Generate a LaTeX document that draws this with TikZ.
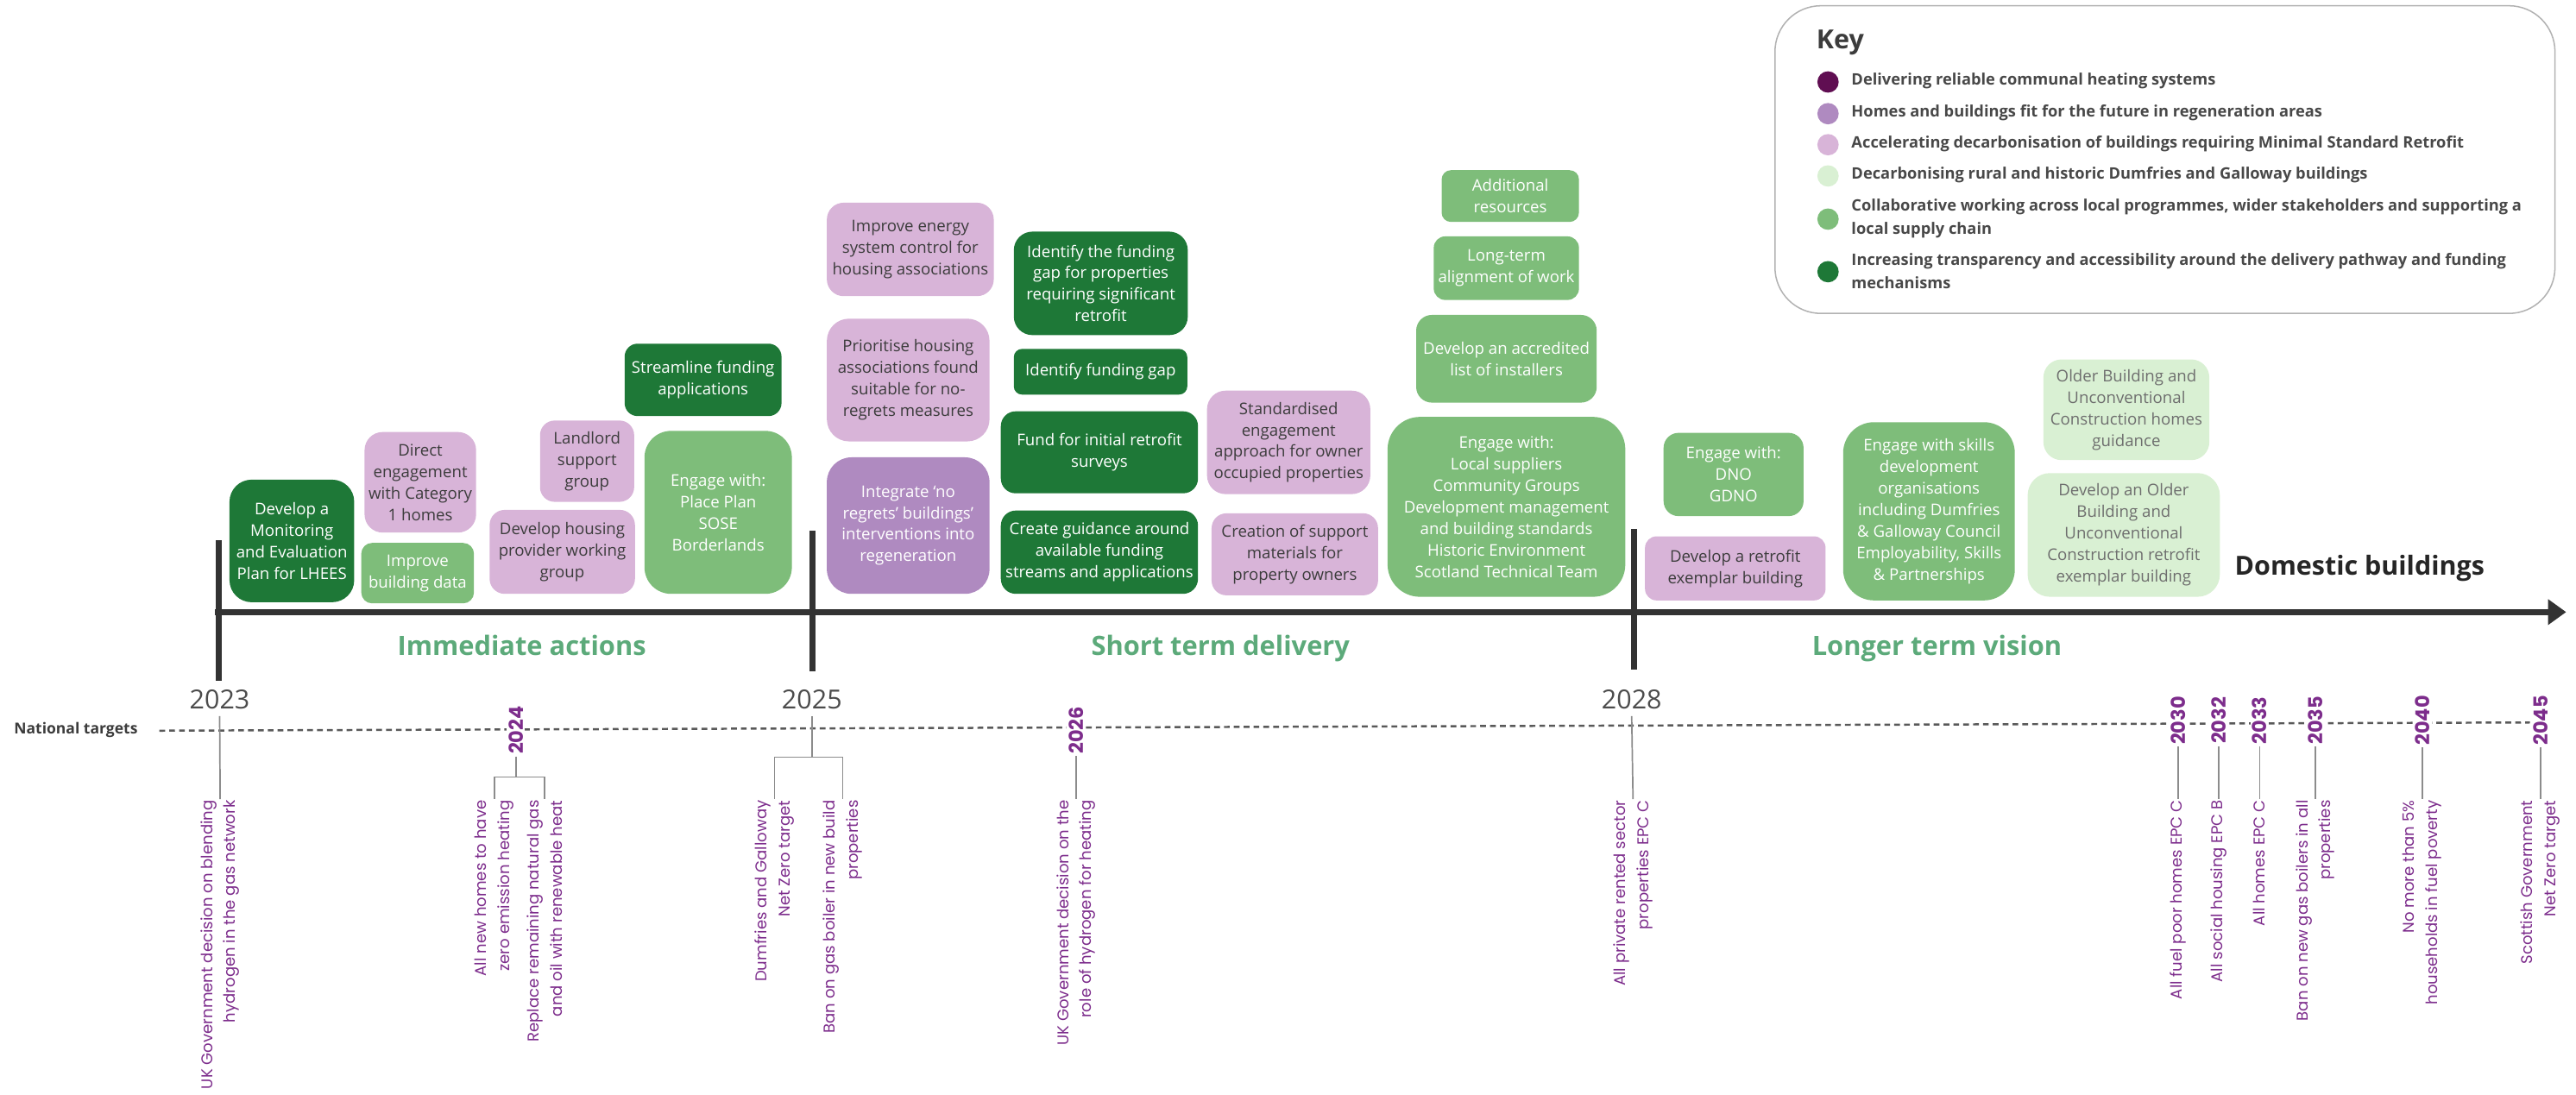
\documentclass[tikz,border=0pt]{standalone}
\usepackage{fontspec}
\setmainfont{Open Sans}
\newfontfamily\popfont{Poppins}
\newcommand\semifont{\bfseries}
\usetikzlibrary{arrows.meta}
\definecolor{cdg}{RGB}{30,120,55}
\definecolor{cmg}{RGB}{126,189,122}
\definecolor{clg}{RGB}{217,240,211}
\definecolor{clp}{RGB}{216,180,216}
\definecolor{cmp}{RGB}{175,138,192}
\definecolor{cdp}{RGB}{96,14,82}
\definecolor{csec}{RGB}{92,170,122}
\definecolor{ctp}{RGB}{125,45,140}
\definecolor{ctxt}{RGB}{60,60,60}
\definecolor{ckey}{RGB}{72,72,72}
\definecolor{clgt}{RGB}{110,110,110}
\definecolor{caxis}{RGB}{51,51,51}
\newcommand\boxfont{\fontsize{9.8}{13.1}\selectfont}
\newcommand\tgtfont{\popfont\fontsize{9.5}{14}\selectfont}
\newcommand\tyfont{\popfont\bfseries\fontsize{11.8}{12}\selectfont}
\newcommand\tlbox[7]{%
 \pgfmathsetmacro\bw{#5-#3}%
 \pgfmathsetmacro\bh{#6-#4}%
 \pgfmathsetmacro\br{0.18*min(\bw,\bh)}%
 \pgfmathsetmacro\bcx{(#3+#5)/2}%
 \pgfmathsetmacro\bcy{(#4+#6)/2}%
 \node[#1, minimum width=\bw pt, minimum height=\bh pt, rounded corners=\br pt] (#2) at (\bcx,\bcy) {#7};}
\tikzset{
 boxbase/.style={inner sep=1pt, align=center, font=\boxfont},
 bdg/.style={boxbase, fill=cdg, text=white},
 bmg/.style={boxbase, fill=cmg, text=white},
 blg/.style={boxbase, fill=clg, text=clgt},
 blp/.style={boxbase, fill=clp, text=ctxt},
 bmp/.style={boxbase, fill=cmp, text=white},
 axisline/.style={line width=3.5pt, draw=caxis, -{Triangle[length=11pt,width=15pt]}},
 tickline/.style={line width=3.6pt, draw=caxis},
 natline/.style={line width=1.3pt, draw=black!65, dash pattern=on 3.5pt off 2.5pt},
 tline/.style={line width=0.9pt, draw=black!45},
 tgt/.style={rotate=90, anchor=east, align=right, inner sep=0.5pt, text=ctp, font=\tgtfont},
 tyear/.style={rotate=90, inner sep=1.2pt, fill=white, text=ctp, font=\tyfont},
 yearlab/.style={anchor=base, inner sep=4pt, text=black!70, font=\fontsize{16}{18}\selectfont},
 seclab/.style={anchor=base, text=csec, font=\semifont\fontsize{16.2}{20}\selectfont},
 keydot/.style={circle, minimum size=13pt, inner sep=0pt},
 keytxt/.style={anchor=west, align=left, inner sep=0pt, text=ckey, font=\semifont\fontsize{9.6}{14}\selectfont}
}
\begin{document}
\begin{tikzpicture}[x=1pt,y=-1pt]
\useasboundingbox (0,0) rectangle (1568,666.5);
% ---------- key ----------
\node[draw=black!30, line width=0.8pt, rounded corners=28pt, minimum width=474.8pt, minimum height=187.3pt] (keybox) at (1317.8,97.15) {};
\node[anchor=base west, inner sep=0pt, font=\bfseries\fontsize{16}{18}\selectfont, text=ctxt] (keytitle) at (1105.5,29.8) {Key};
\node[keydot, fill=cdp] (kd1) at (1112.7,49.9) {};
\node[keydot, fill=cmp] (kd2) at (1112.7,69.2) {};
\node[keydot, fill=clp] (kd3) at (1112.7,88.1) {};
\node[keydot, fill=clg] (kd4) at (1112.7,107.1) {};
\node[keydot, fill=cmg] (kd5) at (1112.7,133.4) {};
\node[keydot, fill=cdg] (kd6) at (1112.7,165.4) {};
\node[keytxt] (kt1) at (1126.8,49.5) {Delivering reliable communal heating systems};
\node[keytxt] (kt2) at (1126.8,68.8) {Homes and buildings fit for the future in regeneration areas};
\node[keytxt] (kt3) at (1126.8,87.7) {Accelerating decarbonisation of buildings requiring Minimal Standard Retrofit};
\node[keytxt] (kt4) at (1126.8,106.7) {Decarbonising rural and historic Dumfries and Galloway buildings};
\node[keytxt] (kt5) at (1126.8,133) {Collaborative working across local programmes, wider stakeholders and supporting a\\local supply chain};
\node[keytxt] (kt6) at (1126.8,165) {Increasing transparency and accessibility around the delivery pathway and funding\\mechanisms};
% ---------- boxes: immediate actions ----------
\tlbox{bdg}{b1}{139.7}{292}{215.6}{366.6}{Develop a\\Monitoring\\and Evaluation\\Plan for LHEES}
\tlbox{blp}{b2}{221.9}{263}{289.8}{324.2}{Direct\\engagement\\with Category\\1 homes}
\tlbox{bmg}{b3}{219.9}{330.5}{288.5}{367.3}{Improve\\building data}
\tlbox{blp}{b4}{328.7}{256}{386}{305.5}{Landlord\\support\\group}
\tlbox{blp}{b5}{298}{310.4}{386.5}{361.5}{Develop housing\\provider working\\group}
\tlbox{bdg}{b6}{380.2}{209.2}{475.7}{253.3}{Streamline funding\\applications}
\tlbox{bmg}{b7}{392.3}{262.3}{482}{361.5}{Engage with:\\Place Plan\\SOSE\\Borderlands}
% ---------- boxes: short term ----------
\tlbox{blp}{b8}{503.3}{123.4}{604.9}{180.3}{Improve energy\\system control for\\housing associations}
\tlbox{blp}{b9}{503.3}{194}{602.3}{268.7}{Prioritise housing\\associations found\\suitable for no-\\regrets measures}
\tlbox{bmp}{b10}{503.3}{278.4}{602.3}{361.5}{Integrate ‘no\\regrets’ buildings’\\interventions into\\regeneration}
\tlbox{bdg}{b11}{617.1}{141}{723}{204}{Identify the funding\\gap for properties\\requiring significant\\retrofit}
\tlbox{bdg}{b12}{617.1}{212.4}{722.7}{240.2}{Identify funding gap}
\tlbox{bdg}{b13}{609.2}{250.4}{729.2}{300.3}{Fund for initial retrofit\\surveys}
\tlbox{bdg}{b14}{609.2}{310.8}{729.2}{361.5}{Create guidance around\\available funding\\streams and applications}
\tlbox{blp}{b15}{734.7}{237.8}{834.1}{300.8}{Standardised\\engagement\\approach for owner\\occupied properties}
\tlbox{blp}{b16}{737.5}{312.5}{838.8}{362.4}{Creation of support\\materials for\\property owners}
\tlbox{bmg}{b17}{877.5}{103.6}{961.1}{135.1}{Additional\\resources}
\tlbox{bmg}{b18}{872.7}{143.9}{961.1}{182.6}{Long-term\\alignment of work}
\tlbox{bmg}{b19}{862}{191.7}{971.9}{245.1}{Develop an accredited\\list of installers}
\tlbox{bmg}{b20}{844.6}{253.8}{989.3}{363.3}{Engage with:\\Local suppliers\\Community Groups\\Development management\\and building standards\\Historic Environment\\Scotland Technical Team}
% ---------- boxes: longer term ----------
\tlbox{bmg}{b21}{1012.6}{263.5}{1097.8}{314.2}{Engage with:\\DNO\\GDNO}
\tlbox{blp}{b22}{1001.3}{326.5}{1111.2}{365.5}{Develop a retrofit\\exemplar building}
\tlbox{bmg}{b23}{1121.9}{257}{1226.4}{365.5}{Engage with skills\\development\\organisations\\including Dumfries\\\& Galloway Council\\Employability, Skills\\\& Partnerships}
\tlbox{blg}{b24}{1243.8}{218.8}{1344.8}{280.1}{Older Building and\\Unconventional\\Construction homes\\guidance}
\tlbox{blg}{b25}{1234.2}{288}{1351.2}{363.3}{Develop an Older\\Building and\\Unconventional\\Construction retrofit\\exemplar building}
% ---------- main axis ----------
\coordinate (ax0) at (131,372.6);
\coordinate (ax1) at (1562,372.6);
\draw[axisline] (ax0) -- (ax1);
\coordinate (tk23a) at (133,329); \coordinate (tk23b) at (133,414.6);
\coordinate (tk25a) at (494.6,323); \coordinate (tk25b) at (494.6,408.8);
\coordinate (tk28a) at (994.7,322); \coordinate (tk28b) at (994.7,407.6);
\draw[tickline] (tk23a) -- (tk23b);
\draw[tickline] (tk25a) -- (tk25b);
\draw[tickline] (tk28a) -- (tk28b);
\node[anchor=base, inner sep=0pt, text=black!85, font=\semifont\fontsize{16}{20}\selectfont] (dom) at (1436.3,350) {Domestic buildings};
\node[seclab] (sImm) at (317.6,398.8) {Immediate actions};
\node[seclab] (sShort) at (742.9,398.8) {Short term delivery};
\node[seclab] (sLong) at (1179,398.8) {Longer term vision};
% ---------- national targets ----------
\node[anchor=west, inner sep=0pt, text=ctxt, font=\semifont\fontsize{9.2}{10}\selectfont] (nat) at (8.4,444.5) {National targets};
\coordinate (d0) at (97,444.8);
\coordinate (d1) at (1540,439.8);
\draw[natline] (d0) -- (d1);
\node[yearlab] (y23) at (133.7,431.6) {2023};
\node[yearlab] (y25) at (494.2,431.6) {2025};
\node[yearlab] (y28) at (993.2,431.6) {2028};
\node[tyear] (l2024) at (314,444.5) {2024};
\node[tyear] (l2026) at (655,444.5) {2026};
\node[tyear] (l2030) at (1325.9,438.6) {2030};
\node[tyear] (l2032) at (1350.6,438.6) {2032};
\node[tyear] (l2033) at (1375.4,438.6) {2033};
\node[tyear] (l2035) at (1409.3,438.6) {2035};
\node[tyear] (l2040) at (1474.4,438.6) {2040};
\node[tyear] (l2045) at (1546.3,438.6) {2045};
% target texts
\node[tgt] (t2023) at (134,486.5) {UK Government decision on blending\\hydrogen in the gas network};
\node[tgt] (t2024a) at (301,486.5) {All new homes to have\\zero emission heating};
\node[tgt] (t2024b) at (331.5,486.5) {Replace remaining natural gas\\and oil with renewable heat};
\node[tgt] (t2025a) at (471.5,486.5) {Dumfries and Galloway\\Net Zero target};
\node[tgt] (t2025b) at (513,486.5) {Ban on gas boiler in new build\\properties};
\node[tgt] (t2026) at (655,486.5) {UK Government decision on the\\role of hydrogen for heating};
\node[tgt] (t2028) at (994,486.5) {All private rented sector\\properties EPC C};
\node[tgt] (t2030) at (1325.9,486.5) {All fuel poor homes EPC C};
\node[tgt] (t2032) at (1350.6,486.5) {All social housing EPC B};
\node[tgt] (t2033) at (1375.4,486.5) {All homes EPC C};
\node[tgt] (t2035) at (1409.3,486.5) {Ban on new gas boilers in all\\properties};
\node[tgt] (t2040) at (1474.4,486.5) {No more than 5\%\\households in fuel poverty};
\node[tgt] (t2045) at (1546.3,486.5) {Scottish Government\\Net Zero target};
% target connectors
\draw[tline] (y23.south) -- (t2023.east);
\draw[tline] (y28.south) -- (t2028.east);
\coordinate (b24) at (314,473);
\draw[tline] (l2024.west) -- (b24);
\draw[tline] (b24) -| (t2024a.east);
\draw[tline] (b24) -| (t2024b.east);
\coordinate (b25) at (494.2,461);
\draw[tline] (y25.south) -- (b25);
\draw[tline] (b25) -| (t2025a.east);
\draw[tline] (b25) -| (t2025b.east);
\draw[tline] (l2026.west) -- (t2026.east);
\draw[tline] (l2030.west) -- (t2030.east);
\draw[tline] (l2032.west) -- (t2032.east);
\draw[tline] (l2033.west) -- (t2033.east);
\draw[tline] (l2035.west) -- (t2035.east);
\draw[tline] (l2040.west) -- (t2040.east);
\draw[tline] (l2045.west) -- (t2045.east);
\end{tikzpicture}
\end{document}
